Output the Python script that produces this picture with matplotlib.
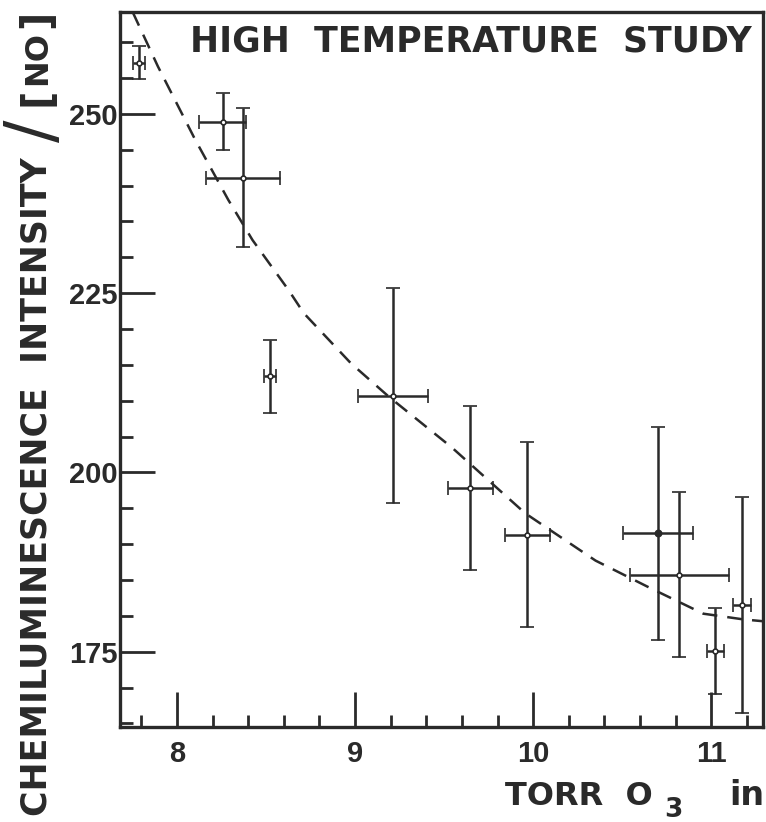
import matplotlib
matplotlib.use("Agg")
import matplotlib.pyplot as plt
from matplotlib.ticker import MultipleLocator

# measured points: O3 pressure (torr), chemiluminescence / [NO], and their uncertainties
torr_o3 = [7.787, 8.258, 8.371, 8.522, 9.213, 9.646, 9.966, 10.702, 10.820, 11.022, 11.174]
intensity = [257.1, 248.9, 241.1, 213.4, 210.7, 197.8, 191.3, 191.5, 185.7, 175.1, 181.5]
intensity_err = [2.3, 4.0, 9.7, 5.1, 15.0, 11.4, 12.9, 14.8, 11.5, 6.0, 15.1]
torr_err = [0.034, 0.132, 0.21, 0.034, 0.194, 0.126, 0.127, 0.197, 0.278, 0.047, 0.05]
filled = [False, False, False, False, False, False, False, True, False, False, False]

# fitted curve (dashed)
fit_torr = [7.751, 7.893, 8.102, 8.288, 8.424, 8.627, 8.712, 8.977, 9.192,
            9.542, 9.955, 10.350, 10.655, 10.955, 11.181, 11.311]
fit_intensity = [264.2, 256.6, 246.4, 238.0, 232.4, 225.4, 222.2, 215.2, 210.5,
                 203.5, 194.3, 187.7, 183.9, 180.3, 179.5, 179.2]

INK = "#2a2a2a"
BOLD = dict(family="DejaVu Sans", weight="bold", color=INK)

fig = plt.figure(figsize=(7.66, 8.22), dpi=100)
ax = fig.add_axes([120 / 766, 1 - 727 / 822, (763 - 120) / 766, (727 - 12) / 822])

ax.plot(fit_torr, fit_intensity, color=INK, lw=1.8, linestyle=(0, (6, 4)))

for x, y, xe, ye, f in zip(torr_o3, intensity, torr_err, intensity_err, filled):
    ax.errorbar(x, y, xerr=xe, yerr=ye, fmt="o", ms=4.5 if f else 3.5,
                mfc=INK if f else "white", mec=INK, mew=1.2,
                ecolor=INK, elinewidth=1.8, capsize=5, capthick=1.8)

ax.set_xlim(7.68, 11.29)
ax.set_ylim(164.5, 264.2)

ax.xaxis.set_major_locator(MultipleLocator(1))
ax.xaxis.set_minor_locator(MultipleLocator(0.2))
ax.yaxis.set_major_locator(MultipleLocator(25))
ax.yaxis.set_minor_locator(MultipleLocator(5))
ax.tick_params(which="both", direction="in", color=INK, width=2)
ax.tick_params(which="major", length=25)
ax.tick_params(which="minor", length=9)
ax.tick_params(axis="y", which="major", pad=2)
ax.tick_params(axis="x", which="major", pad=9)
ax.tick_params(top=False, right=False)
for lab in ax.get_xticklabels() + ax.get_yticklabels():
    lab.set_family("Liberation Sans")
    lab.set_weight("bold")
    lab.set_fontsize(21)
    lab.set_color(INK)
for sp in ax.spines.values():
    sp.set_linewidth(2.4)
    sp.set_color(INK)

# title inside the frame
fig.text(752 / 766, 1 - 42 / 822, "HIGH  TEMPERATURE  STUDY", ha="right", va="center",
         fontsize=25, **BOLD)

# y label: CHEMILUMINESCENCE INTENSITY / [NO]
fig.text(37 / 766, 1 - 816 / 822, "CHEMILUMINESCENCE  INTENSITY", rotation=90,
         ha="center", va="bottom", fontsize=25, **BOLD)
fig.text(35 / 766, 1 - 131 / 822, "/", rotation=90, ha="center", va="center",
         fontsize=48, family="DejaVu Sans", color=INK)
fig.text(37 / 766, 1 - 97 / 822, "[", rotation=90, ha="center", va="center",
         fontsize=29, **BOLD)
fig.text(38 / 766, 1 - 58 / 822, "NO", rotation=90, ha="center", va="center",
         fontsize=23, **BOLD)
fig.text(37 / 766, 1 - 19 / 822, "]", rotation=90, ha="center", va="center",
         fontsize=29, **BOLD)

# x label: TORR O3 in
fig.text(653 / 766, 1 - 805 / 822, "TORR  O", ha="right", va="baseline",
         fontsize=23, **BOLD)
fig.text(673 / 766, 1 - 817 / 822, "3", ha="center", va="baseline",
         fontsize=19, **BOLD)
fig.text(764 / 766, 1 - 805 / 822, "in", ha="right", va="baseline",
         fontsize=24, **BOLD)

fig.savefig("out.png", dpi=100)
